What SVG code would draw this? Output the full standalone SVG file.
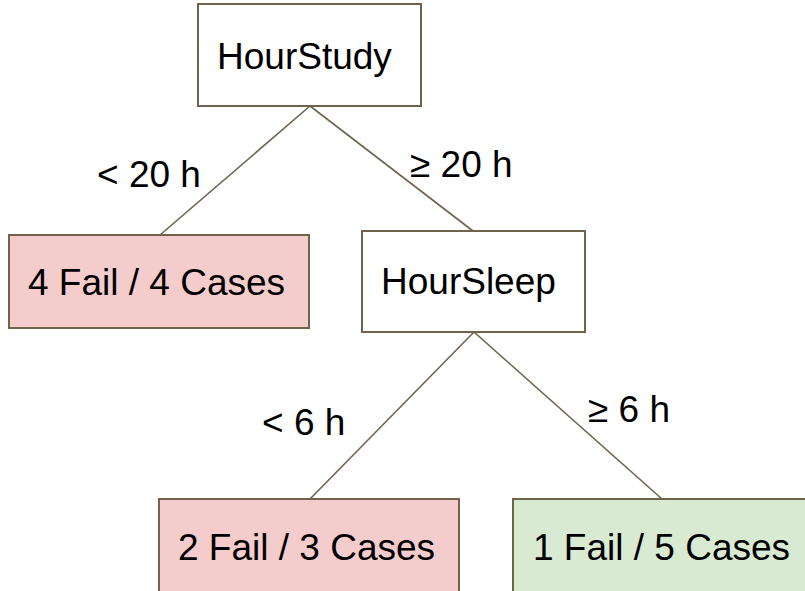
<svg xmlns="http://www.w3.org/2000/svg" width="805" height="591" viewBox="0 0 805 591">
<style>
.box{stroke:#6f634d;stroke-width:2}
.split{fill:#ffffff}
.fail{fill:#f4cccc}
.pass{fill:#d9ead3}
.t{font-family:"Liberation Sans",Arial,sans-serif;font-size:37px;fill:#000000}
.edge{stroke:#6f634d;stroke-width:1.6;fill:none}
</style>
<rect width="805" height="591" fill="#ffffff"/>
<g id="connectors">
<line class="edge" x1="310" y1="106" x2="160" y2="235"/>
<line class="edge" x1="310" y1="106" x2="473" y2="231"/>
<line class="edge" x1="474" y1="332" x2="310" y2="499"/>
<line class="edge" x1="474" y1="332" x2="662" y2="499"/>
<text class="t" x="97" y="187">&lt; 20 h</text>
<text class="t" x="410" y="177">≥ 20 h</text>
<text class="t" x="262" y="435">&lt; 6 h</text>
<text class="t" x="588" y="422">≥ 6 h</text>
</g>
<g id="node-hourstudy">
<rect class="box split" x="198" y="4" width="223" height="102"/>
<text class="t" x="217" y="69">HourStudy</text>
</g>
<g id="node-leaf1">
<rect class="box fail" x="9" y="235" width="300" height="93"/>
<text class="t" x="28" y="295">4 Fail / 4 Cases</text>
</g>
<g id="node-hoursleep">
<rect class="box split" x="362" y="231" width="223" height="101"/>
<text class="t" x="381" y="294">HourSleep</text>
</g>
<g id="node-leaf2">
<rect class="box fail" x="159" y="499" width="300" height="100"/>
<text class="t" x="178" y="560">2 Fail / 3 Cases</text>
</g>
<g id="node-leaf3">
<rect class="box pass" x="513" y="499" width="300" height="100"/>
<text class="t" x="533" y="560">1 Fail / 5 Cases</text>
</g>
</svg>
